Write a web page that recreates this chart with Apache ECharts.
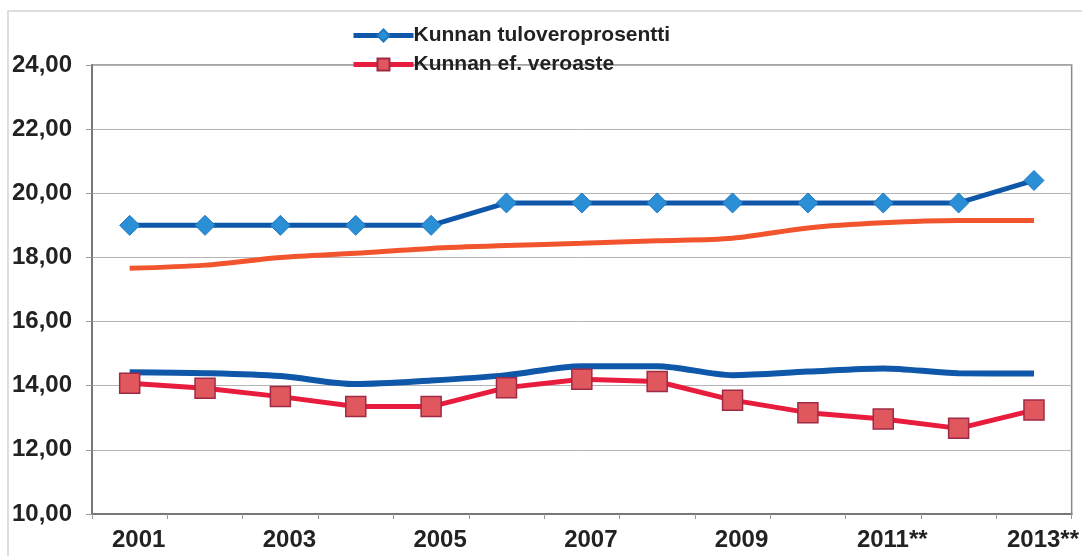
<!DOCTYPE html>
<html>
<head>
<meta charset="utf-8">
<script src="https://cdn.jsdelivr.net/npm/echarts@6/dist/echarts.min.js"></script>
<style>
  html, body { margin: 0; padding: 0; background: #fff; }
  #main { width: 1082px; height: 556px; }
</style>
</head>
<body>
<div id="main"></div>
<script>
var years = ['2001', '2002', '2003', '2004', '2005', '2006', '2007', '2008', '2009', '2010', '2011**', '2012**', '2013**'];
// Kunnan tuloveroprosentti
var tuloveroKunta = [19.00, 19.00, 19.00, 19.00, 19.00, 19.70, 19.70, 19.70, 19.70, 19.70, 19.70, 19.70, 20.40];
// Kunnan ef. veroaste
var veroasteKunta = [14.08, 13.92, 13.66, 13.35, 13.35, 13.94, 14.20, 14.13, 13.55, 13.16, 12.96, 12.67, 13.24];
// vertailulinjat ilman merkkejä
var tuloveroVert = [17.66, 17.76, 18.00, 18.13, 18.28, 18.37, 18.44, 18.52, 18.60, 18.92, 19.08, 19.15, 19.15];
var veroasteVert = [14.42, 14.39, 14.30, 14.05, 14.16, 14.33, 14.61, 14.61, 14.33, 14.44, 14.54, 14.39, 14.38];
var yTicks = { min: 10, max: 24, step: 2 };

var myChart = echarts.init(document.getElementById('main'));
var font = 'Liberation Sans, Arial, sans-serif';

var option = {
  backgroundColor: '#fff',
  animation: false,
  graphic: [{
    type: 'rect',
    shape: { x: 8, y: 11, width: 1100, height: 560 },
    style: { fill: 'none', stroke: '#d4d4d4', lineWidth: 1.5 },
    silent: true
  }],
  legend: {
    orient: 'vertical',
    left: 346,
    top: 20,
    itemWidth: 60,
    itemHeight: 15,
    itemGap: 8,
    data: [
      { name: 'Kunnan tuloveroprosentti', lineStyle: { width: 5 } },
      { name: 'Kunnan ef. veroaste', lineStyle: { width: 5 } }
    ],
    textStyle: { fontFamily: font, fontWeight: 'bold', fontSize: 21, color: '#222', padding: [0, 0, 0, -5] }
  },
  grid: {
    left: 92, right: 10, top: 65, bottom: 42,
    show: true, borderColor: '#888', borderWidth: 1.5
  },
  xAxis: {
    type: 'category',
    data: years,
    boundaryGap: true,
    axisLine: { lineStyle: { color: '#777', width: 2 } },
    axisTick: { show: true, interval: 0, length: 5, lineStyle: { color: '#999' } },
    axisLabel: {
      interval: 1, margin: 14, color: '#222',
      fontFamily: font, fontWeight: 'bold', fontSize: 24,
      padding: [0, 0, 0, 18]
    }
  },
  yAxis: {
    type: 'value',
    min: yTicks.min, max: yTicks.max, interval: yTicks.step,
    axisLine: { show: true, lineStyle: { color: '#777', width: 2 } },
    axisTick: { show: true, length: 6, lineStyle: { color: '#999' } },
    splitLine: { lineStyle: { color: '#b4b4b4', width: 1 } },
    axisLabel: {
      margin: 20, color: '#222',
      fontFamily: font, fontWeight: 'bold', fontSize: 24,
      formatter: function (v) { return v.toFixed(2).replace('.', ','); }
    }
  },
  series: [
    {
      name: 'vertailu veroaste',
      type: 'line',
      data: veroasteVert,
      smooth: 0.3,
      symbol: 'none',
      lineStyle: { color: '#0f57a8', width: 6 },
      z: 2
    },
    {
      name: 'vertailu tulovero',
      type: 'line',
      data: tuloveroVert,
      smooth: 0.3,
      symbol: 'none',
      lineStyle: { color: '#f2552e', width: 5 },
      z: 2
    },
    {
      name: 'Kunnan tuloveroprosentti',
      type: 'line',
      data: tuloveroKunta,
      symbol: 'diamond',
      symbolSize: 20,
      itemStyle: { color: '#2b8fd6', borderColor: '#1f78c0', borderWidth: 1 },
      lineStyle: { color: '#0f57a8', width: 5 },
      z: 3
    },
    {
      name: 'Kunnan ef. veroaste',
      type: 'line',
      data: veroasteKunta,
      symbol: 'rect',
      symbolSize: 20,
      itemStyle: { color: '#e0585e', borderColor: '#9e2a45', borderWidth: 1.5 },
      lineStyle: { color: '#e81c3c', width: 5 },
      z: 3
    }
  ]
};

myChart.setOption(option);
</script>
</body>
</html>
